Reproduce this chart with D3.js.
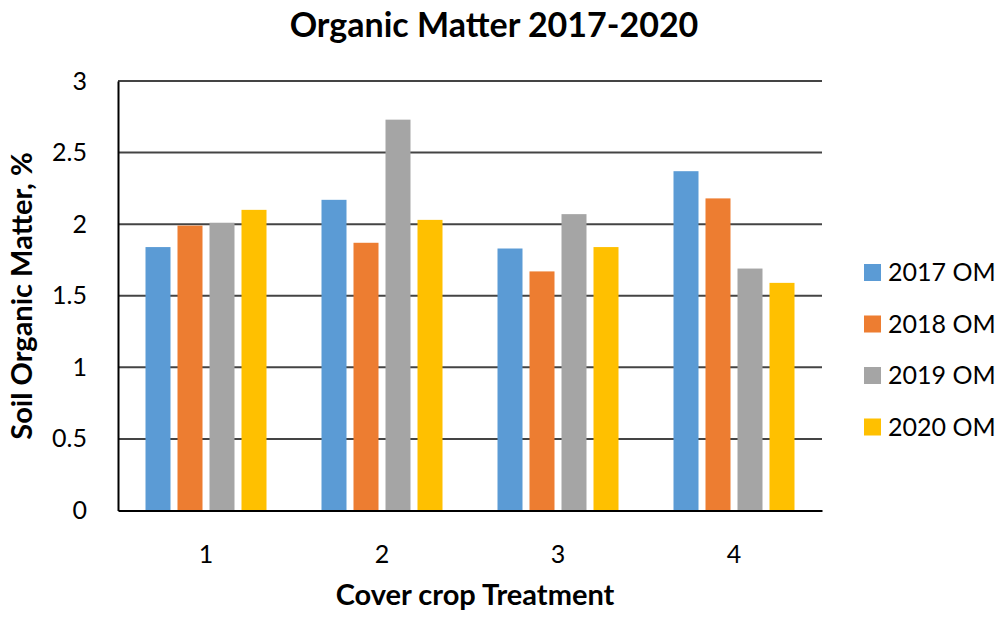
<!DOCTYPE html>
<html><head><meta charset="utf-8">
<script src="https://cdn.jsdelivr.net/npm/d3@7"></script>
<style>body{margin:0;background:#fff}svg text{font-family:Lato,"Open Sans",sans-serif}</style>
</head><body><svg id="c" width="1003" height="617"></svg>
<script>
const categories = ["1","2","3","4"];
const seriesNames = ["2017 OM","2018 OM","2019 OM","2020 OM"];
const om2017 = [1.84, 2.17, 1.83, 2.37];
const om2018 = [1.99, 1.87, 1.67, 2.18];
const om2019 = [2.01, 2.73, 2.07, 1.69];
const om2020 = [2.10, 2.03, 1.84, 1.59];
const yTicks = [0, 0.5, 1, 1.5, 2, 2.5, 3];
const colors = ["#5B9BD5","#ED7D31","#A5A5A5","#FFC000"];
const series = [om2017, om2018, om2019, om2020];

const svg = d3.select("#c");
const L = 118, R = 822, T = 81, B = 510.5;
const x = d3.scaleBand().domain(categories).range([L, R]).paddingInner(0).paddingOuter(0);
const y = d3.scaleLinear().domain([0, 3]).range([B, T]);
const bw = 25, step = 32;

// gridlines
svg.append("g").selectAll("line").data(yTicks.filter(d => d > 0)).join("line")
  .attr("x1", L).attr("x2", R).attr("y1", d => y(d)).attr("y2", d => y(d))
  .attr("stroke", "#444").attr("stroke-width", 2);

// bars
series.forEach((vals, si) => {
  svg.append("g").selectAll("rect").data(vals).join("rect")
    .attr("x", (d, i) => x(categories[i]) + x.bandwidth() / 2 - 2 * step + (step - bw) / 2 + si * step)
    .attr("y", d => y(d)).attr("width", bw).attr("height", d => B - y(d))
    .attr("fill", colors[si]);
});

// axes
const yAxis = d3.axisLeft(y).tickValues(yTicks).tickSize(0).tickPadding(31).tickFormat(d3.format("~g"));
const ga = svg.append("g").attr("transform", `translate(${L},0)`).call(yAxis);
ga.select(".domain").attr("stroke", "#000").attr("stroke-width", 2);
ga.selectAll("text").attr("font-size", 25).attr("fill", "#000");

const xAxis = d3.axisBottom(x).tickSize(0);
const gx = svg.append("g").attr("transform", `translate(0,${B})`).call(xAxis);
gx.select(".domain").attr("stroke", "#000").attr("stroke-width", 2);
gx.selectAll("text").attr("font-size", 25).attr("fill", "#000").attr("y", 52).attr("dy", 0);

// titles
svg.append("text").attr("x", 494).attr("y", 37).attr("text-anchor", "middle")
  .attr("font-size", 34).attr("font-weight", "bold").text("Organic Matter 2017-2020");
svg.append("text").attr("x", 475).attr("y", 605).attr("text-anchor", "middle")
  .attr("font-size", 29).attr("font-weight", "bold").text("Cover crop Treatment");
svg.append("text").attr("transform", "translate(32,296) rotate(-90)").attr("text-anchor", "middle")
  .attr("font-size", 29).attr("font-weight", "bold").text("Soil Organic Matter, %");

// legend
const lg = svg.append("g").selectAll("g").data(seriesNames).join("g")
  .attr("transform", (d, i) => `translate(864,${264 + i * 51.5})`);
lg.append("rect").attr("width", 17).attr("height", 17).attr("fill", (d, i) => colors[i]);
lg.append("text").attr("x", 24).attr("y", 17).attr("font-size", 25).text(d => d);
</script></body></html>
